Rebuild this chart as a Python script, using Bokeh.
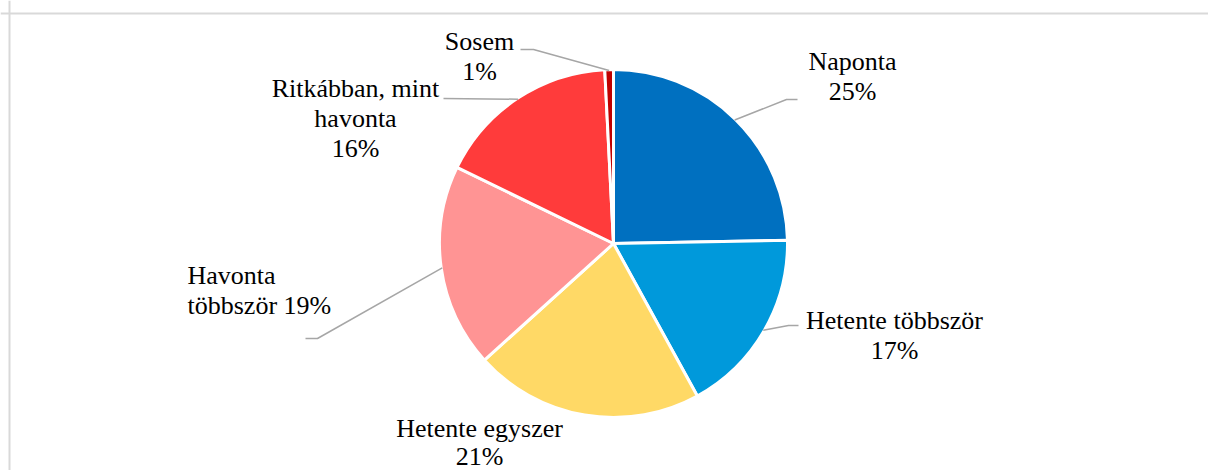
import math
from bokeh.plotting import figure
from bokeh.models import ColumnDataSource, Range1d, Span
from bokeh.core.properties import value
from bokeh.embed import file_html
from bokeh.resources import INLINE

# ---------------- data ----------------
categories = ["Naponta", "Hetente többször", "Hetente egyszer",
              "Havonta többször", "Ritkábban, mint havonta", "Sosem"]
shares = [24.7, 17.3, 21.3, 18.9, 17.0, 0.8]
pct_labels = ["25%", "17%", "21%", "19%", "16%", "1%"]
colors = ["#0070C0", "#0099DB", "#FFD966", "#FF9494", "#FF3B3B", "#C00000"]

# ---------------- layout (picture pixel coordinates) ----------------
W, H = 1208, 470
CX, CY, R = 613, 243, 174
FONT = value("Liberation Serif")

def Y(py):
    return H - py

# per category: lines of text, alignment, anchor x, baselines, leader elbow/end
label_layout = {
    "Naponta": dict(lines=["Naponta", "{p}"], align="center", x=852,
                    base=[61, 91], leader=[(786, 99), (797, 99)]),
    "Hetente többször": dict(lines=["Hetente többször", "{p}"], align="center", x=894,
                             base=[319.5, 349.5], leader=[(788, 325), (798, 325)]),
    "Hetente egyszer": dict(lines=["Hetente egyszer", "{p}"], align="center", x=479,
                            base=[428, 456], leader=None),
    "Havonta többször": dict(lines=["Havonta", "többször {p}"], align="left", x=187,
                             base=[274.5, 304.5], leader=[(317, 338), (305, 338)]),
    "Ritkábban, mint havonta": dict(lines=["Ritkábban, mint", "havonta", "{p}"], align="center",
                                    x=355, base=[87.5, 117.5, 147.5], leader=[(443, 98)]),
    "Sosem": dict(lines=["Sosem", "{p}"], align="center", x=479,
                  base=[41, 71], leader=[(533, 49), (520, 49)]),
}

p = figure(width=W, height=H, output_backend="svg", toolbar_location=None,
           x_axis_type=None, y_axis_type=None,
           x_range=Range1d(0, W), y_range=Range1d(0, H))
p.min_border = 0
p.outline_line_color = None
p.background_fill_color = "white"
p.border_fill_color = "white"
p.grid.visible = False

# frame border (top and left only visible in the reference)
p.add_layout(Span(location=9, dimension="height", line_color="#D9D9D9", line_width=2))
p.add_layout(Span(location=Y(13), dimension="width", line_color="#D9D9D9", line_width=2))

# ---------------- wedges ----------------
total = sum(shares)
starts, ends, mids = [], [], []
cum = 0.0
for v in shares:
    a0 = math.pi / 2 - 2 * math.pi * cum / total
    cum += v
    a1 = math.pi / 2 - 2 * math.pi * cum / total
    starts.append(a0)
    ends.append(a1)
    mids.append((a0 + a1) / 2)

src = ColumnDataSource(dict(x=[CX] * len(shares), y=[Y(CY)] * len(shares),
                            start=starts, end=ends, color=colors, cat=categories))
p.wedge(x="x", y="y", radius=R, start_angle="start", end_angle="end",
        direction="clock", fill_color="color", line_color="white", line_width=3,
        source=src)

# ---------------- leader lines ----------------
for cat, mid in zip(categories, mids):
    lay = label_layout[cat]
    if not lay["leader"]:
        continue
    xs = [CX + (R - 1) * math.cos(mid)]
    ys = [Y(CY) + (R - 1) * math.sin(mid)]
    for (px, py) in lay["leader"]:
        xs.append(px)
        ys.append(Y(py))
    p.line(xs, ys, line_color="#A6A6A6", line_width=1.5)

# ---------------- labels ----------------
for align in ("center", "left"):
    tx, ty, tt = [], [], []
    for cat, pct in zip(categories, pct_labels):
        lay = label_layout[cat]
        if lay["align"] != align:
            continue
        for line, b in zip(lay["lines"], lay["base"]):
            tx.append(lay["x"])
            ty.append(Y(b))
            tt.append(line.format(p=pct))
    p.text(x=tx, y=ty, text=tt, text_align=align, text_baseline="alphabetic",
           text_font=FONT, text_font_size="26px", text_color="#000000")

open("out.html", "w").write(file_html(p, INLINE))
